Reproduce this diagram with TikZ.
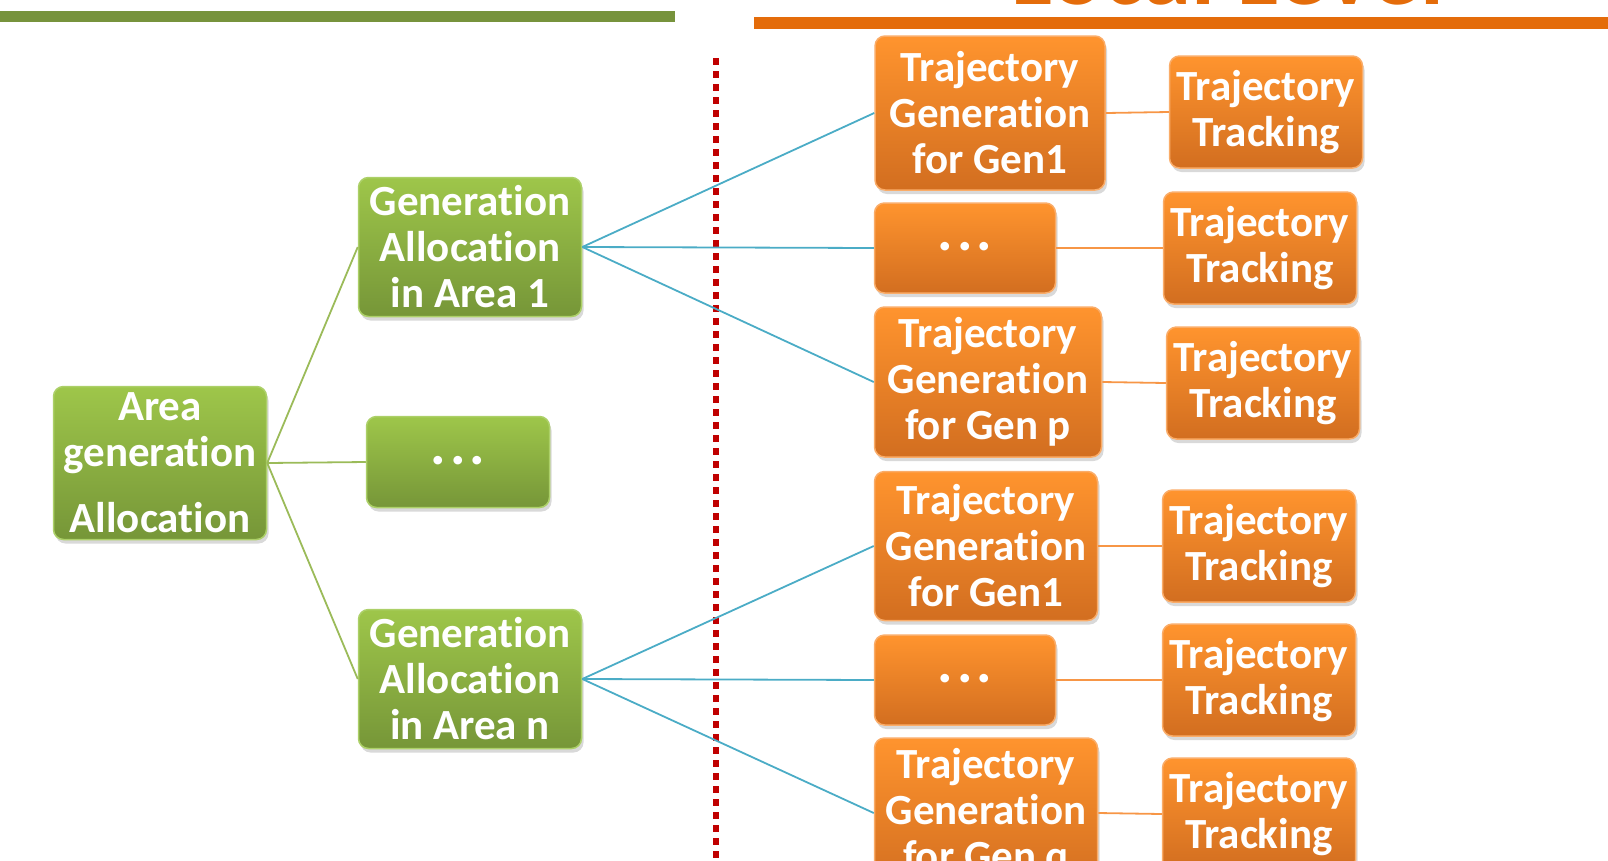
\documentclass[tikz,border=0pt]{standalone}
\usepackage{fontspec}
\setmainfont[Ligatures=NoCommon]{Carlito}
\usetikzlibrary{shadows}

\definecolor{grnTop}{RGB}{158,198,74}
\definecolor{grnBot}{RGB}{118,150,56}
\definecolor{grnEdge}{RGB}{172,208,104}
\definecolor{orgTop}{RGB}{255,148,46}
\definecolor{orgBot}{RGB}{210,110,32}
\definecolor{orgEdge}{RGB}{250,172,104}
\definecolor{grnLine}{RGB}{155,187,89}
\definecolor{bluLine}{RGB}{75,172,198}
\definecolor{orgLine}{RGB}{247,150,70}
\definecolor{redDots}{RGB}{192,0,0}
\definecolor{grnBar}{RGB}{119,147,60}
\definecolor{orgBar}{RGB}{228,108,10}

\tikzset{
  box/.style={rounded corners=10pt, line width=1.5pt, align=center, inner sep=0pt,
    text=white, font=\fontsize{43}{46}\selectfont\bfseries,
    drop shadow={shadow xshift=2pt, shadow yshift=-4pt, opacity=0.3}},
  gbox/.style={box, draw=grnEdge, top color=grnTop, bottom color=grnBot},
  obox/.style={box, draw=orgEdge, top color=orgTop, bottom color=orgBot},
  trk/.style={obox, minimum width=193pt, minimum height=112pt},
  gline/.style={grnLine, line width=1.8pt},
  bline/.style={bluLine, line width=1.8pt},
  oline/.style={orgLine, line width=1.8pt},
  head/.style={anchor=base, font=\fontsize{97}{100}\selectfont\bfseries}
}
\newcommand{\dotrow}{\raisebox{4pt}{\fontsize{58}{58}\selectfont.\hspace{4pt}.\hspace{4pt}.}}

\begin{document}
\begin{tikzpicture}[x=1pt,y=-1pt]
\useasboundingbox (0,0) rectangle (1608,860);

% headings and bars
\node[head, text=grnBar] (glob) at (280,-1.5) {Global Level};
\node[head, text=orgBar] (loc) at (1228,4) {Local Level};
\fill[grnBar] (0,11) rectangle (675,22);
\fill[orgBar] (754,17) rectangle (1608,29);

% divider
\draw[redDots, line width=6pt, dash pattern=on 7pt off 6pt] (716,58) -- (716,862);

% area level
\node[gbox, minimum width=213pt, minimum height=153pt] (area) at (160,463) {Area\\generation\\[20pt]Allocation};
\node[gbox, minimum width=223pt, minimum height=139pt] (ga1) at (470,247) {Generation\\Allocation\\in Area 1};
\node[gbox, minimum width=183pt, minimum height=91pt] (gdots) at (458,462) {\dotrow};
\node[gbox, minimum width=223pt, minimum height=139pt] (gan) at (470,679) {Generation\\Allocation\\in Area n};

% local level
\node[obox, minimum width=230pt, minimum height=154pt] (t1) at (990,113) {Trajectory\\Generation\\for Gen1};
\node[obox, minimum width=181pt, minimum height=90pt] (d1) at (965,248) {\dotrow};
\node[obox, minimum width=227pt, minimum height=150pt] (tp) at (988,382) {Trajectory\\Generation\\for Gen p};
\node[obox, minimum width=223pt, minimum height=149pt] (t2) at (986,546) {Trajectory\\Generation\\for Gen1};
\node[obox, minimum width=181pt, minimum height=90pt] (d2) at (965,680) {\dotrow};
\node[obox, minimum width=223pt, minimum height=150pt] (tq) at (986,813) {Trajectory\\Generation\\for Gen q};

\node[trk] (k1) at (1266,112) {Trajectory\\Tracking};
\node[trk] (k2) at (1260,248) {Trajectory\\Tracking};
\node[trk] (k3) at (1263,383) {Trajectory\\Tracking};
\node[trk] (k4) at (1259,546) {Trajectory\\Tracking};
\node[trk] (k5) at (1259,680) {Trajectory\\Tracking};
\node[trk] (k6) at (1259,814) {Trajectory\\Tracking};

% connectors
\foreach \b in {ga1,gdots,gan}
  \draw[gline] (area.east) -- (\b.west);
\foreach \b in {t1,d1,tp}
  \draw[bline] (ga1.east) -- (\b.west);
\foreach \b in {t2,d2,tq}
  \draw[bline] (gan.east) -- (\b.west);
\foreach \a/\b in {t1/k1,d1/k2,tp/k3,t2/k4,d2/k5,tq/k6}
  \draw[oline] (\a.east) -- (\b.west);
\end{tikzpicture}
\end{document}
